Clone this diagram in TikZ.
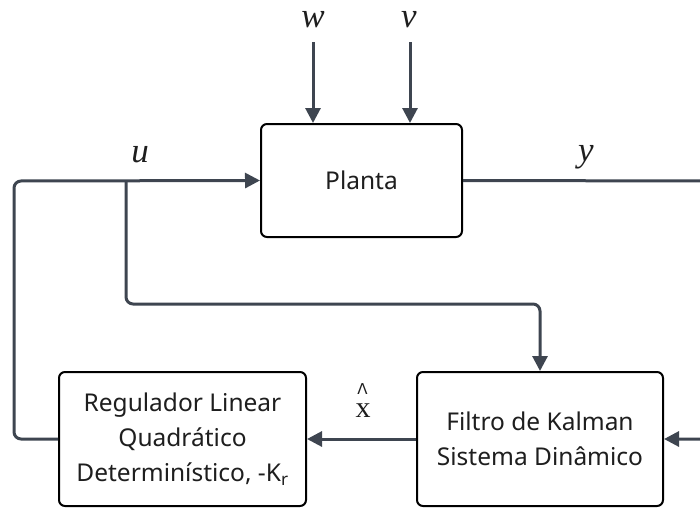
\documentclass[tikz,border=0pt]{standalone}
\usepackage{fontspec}
\setmainfont{Noto Sans}
\newfontfamily\serifit{Liberation Serif}
\newfontfamily\dejavu{DejaVu Sans}
\usetikzlibrary{arrows.meta}
\definecolor{wire}{HTML}{3E4550}
\definecolor{ink}{HTML}{1E1E1E}
\tikzset{
  blockbox/.style={draw=black, line width=2pt, rounded corners=6pt, align=center,
    text=ink, font=\fontsize{24.5}{35}\selectfont, inner sep=0pt},
  wireline/.style={draw=wire, line width=3pt, rounded corners=7pt,
    -{Triangle[length=15pt,width=15pt]}},
  mathlbl/.style={text=ink, font=\serifit\itshape\fontsize{35}{38}\selectfont, inner sep=0pt, anchor=base},
}
\begin{document}
\begin{tikzpicture}[x=1pt,y=-1pt]
\useasboundingbox (0,0) rectangle (700,509);
\clip (0,0) rectangle (700,509);
\node[blockbox, minimum width=201pt, minimum height=113pt] (plant) at (361.5,180.5) {Planta};
\node[blockbox, minimum width=246pt, minimum height=134pt] (filter) at (540,439) {Filtro de Kalman\\Sistema Dinâmico};
\node[blockbox, minimum width=247pt, minimum height=134pt] (reg) at (182.5,439) {Regulador Linear\\Quadrático\\Determinístico, -K\textsubscript{r}};
% inputs
\coordinate (win) at (313,42);
\coordinate (vin) at (410,42);
\node[mathlbl] (wl) at (313,27) {w};
\node[mathlbl] (vl) at (409,27) {v};
\draw[wireline] (win) -- (win |- plant.north);
\draw[wireline] (vin) -- (vin |- plant.north);
% control loop
\coordinate (lc) at (14,439);
\coordinate (tc) at (14,181);
\coordinate (br) at (126,181);
\coordinate (bd) at (126,304);
\coordinate (fd) at (540,304);
\draw[wireline] (reg.west) -- (lc) -- (tc) -- (plant.west);
\draw[wireline] (br) -- (bd) -- (fd) -- (filter.north);
\node[mathlbl] (ul) at (140,162) {u};
% output
\coordinate (ro) at (714,181);
\coordinate (ri) at (714,439);
\draw[wireline] (plant.east) -- (ro) -- (ri) -- (filter.east);
\node[mathlbl] (yl) at (586,161) {y};
% estimate
\draw[wireline] (filter.west) -- (reg.east);
\node[text=ink, inner sep=0pt, anchor=base, text height=13pt, text depth=0pt] (xl) at (363,417) {\serifit\fontsize{30}{30}\selectfont x};
\node[text=ink, inner sep=0pt, anchor=base, text height=11pt, text depth=0pt] (hat) at (362.5,394) {\dejavu\fontsize{15}{15}\selectfont Λ};
\end{tikzpicture}
\end{document}
